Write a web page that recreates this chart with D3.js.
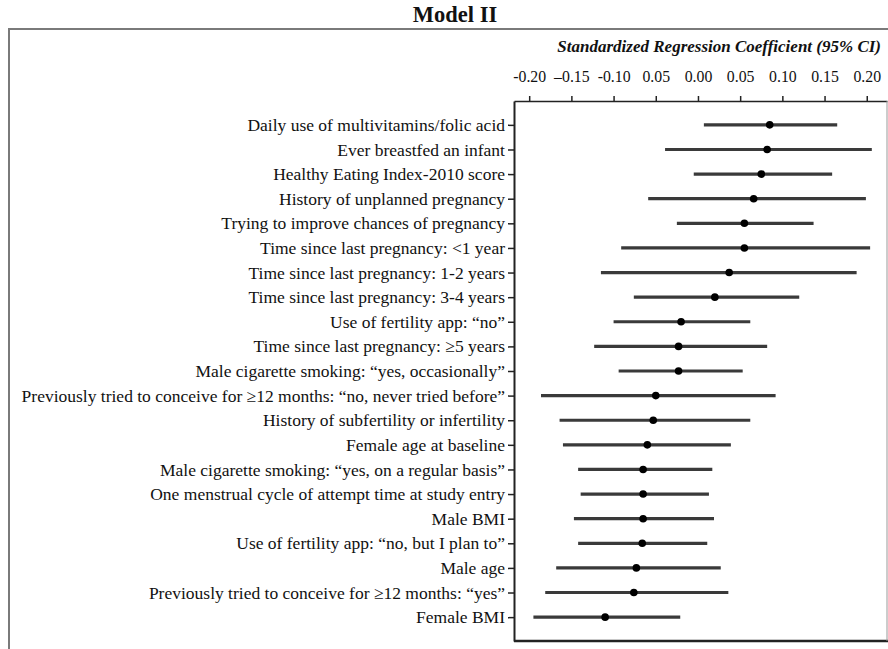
<!DOCTYPE html>
<html>
<head>
<meta charset="utf-8">
<script src="https://cdn.jsdelivr.net/npm/d3@7"></script>
<style>
  html, body { margin: 0; padding: 0; background: #fff; }
  svg { display: block; }
  text { font-family: "Liberation Serif", "Times New Roman", serif; fill: #111; }
</style>
</head>
<body>
<svg id="chart" width="888" height="649"></svg>
<script>
const categories = [
  "Daily use of multivitamins/folic acid",
  "Ever breastfed an infant",
  "Healthy Eating Index-2010 score",
  "History of unplanned pregnancy",
  "Trying to improve chances of pregnancy",
  "Time since last pregnancy: <1 year",
  "Time since last pregnancy: 1-2 years",
  "Time since last pregnancy: 3-4 years",
  "Use of fertility app: \u201cno\u201d",
  "Time since last pregnancy: \u22655 years",
  "Male cigarette smoking: \u201cyes, occasionally\u201d",
  "Previously tried to conceive for \u226512 months: \u201cno, never tried before\u201d",
  "History of subfertility or infertility",
  "Female age at baseline",
  "Male cigarette smoking: \u201cyes, on a regular basis\u201d",
  "One menstrual cycle of attempt time at study entry ",
  "Male BMI",
  "Use of fertility app: \u201cno, but I plan to\u201d",
  "Male age",
  "Previously tried to conceive for \u226512 months: \u201cyes\u201d",
  "Female BMI"
];
const estimates = [0.085, 0.082, 0.075, 0.066, 0.055, 0.055, 0.037, 0.020, -0.020, -0.023, -0.023,
                   -0.050, -0.053, -0.060, -0.065, -0.065, -0.065, -0.066, -0.073, -0.076, -0.110];
const lower = [0.007, -0.039, -0.005, -0.059, -0.025, -0.091, -0.115, -0.076, -0.100, -0.123, -0.094,
               -0.186, -0.164, -0.160, -0.142, -0.139, -0.147, -0.142, -0.168, -0.181, -0.195];
const upper = [0.165, 0.206, 0.159, 0.199, 0.137, 0.204, 0.188, 0.120, 0.062, 0.082, 0.053,
               0.092, 0.062, 0.039, 0.017, 0.013, 0.019, 0.011, 0.027, 0.036, -0.021];
const tickValues = [-0.20, -0.15, -0.10, -0.05, 0.00, 0.05, 0.10, 0.15, 0.20];
const tickLabels = ["-0.20", "\u20130.15", "-0.10", "0.05", "0.00", "0.05", "0.10", "0.15", "0.20"];
const title = "Model II";
const axisTitle = "Standardized Regression Coefficient (95% CI)";

const svg = d3.select("#chart");
const plotL = 514, plotR = 887, plotT = 101, plotB = 641;

const x = d3.scaleLinear().domain([-0.2180, 0.2240]).range([plotL, plotR]);
const y = d3.scalePoint().domain(categories).range([plotT, plotB]).padding(0.97);

// outer frame
svg.append("rect").attr("x", 9).attr("y", 29).attr("width", 900).attr("height", 660)
  .attr("fill", "none").attr("stroke", "#7a7a7a").attr("stroke-width", 2);

// title
svg.append("text").attr("x", 455).attr("y", 22).attr("text-anchor", "middle")
  .attr("font-size", 22.5).attr("font-weight", "bold").text(title);

svg.append("text").attr("x", 881).attr("y", 52).attr("text-anchor", "end")
  .attr("font-size", 17).attr("font-weight", "bold").attr("font-style", "italic").text(axisTitle);

// top axis
const xAxis = d3.axisTop(x).tickValues(tickValues)
  .tickFormat((d, i) => tickLabels[i]).tickSize(5).tickSizeOuter(0);
const gx = svg.append("g").attr("transform", `translate(0,${plotT})`).call(xAxis);
gx.select(".domain").attr("stroke", "#222").attr("stroke-width", 1.5);
gx.selectAll(".tick line").attr("stroke", "#222").attr("stroke-width", 1.5);
gx.selectAll(".tick text").attr("font-family", "Liberation Serif").attr("font-size", 15.8)
  .attr("fill", "#111").attr("y", -19);

// left axis
const yAxis = d3.axisLeft(y).tickSize(6).tickSizeOuter(0).tickPadding(4);
const gy = svg.append("g").attr("transform", `translate(${plotL},0)`).call(yAxis);
gy.select(".domain").attr("stroke", "#222").attr("stroke-width", 2);
gy.selectAll(".tick line").attr("stroke", "#222").attr("stroke-width", 1.5);
gy.selectAll(".tick text").attr("font-family", "Liberation Serif").attr("font-size", 17.5)
  .attr("fill", "#111").attr("x", -9);

// bottom and right frame of plot
svg.append("line").attr("x1", plotL).attr("x2", plotR + 2).attr("y1", plotB).attr("y2", plotB)
  .attr("stroke", "#222").attr("stroke-width", 2.5);
svg.append("line").attr("x1", plotR).attr("x2", plotR).attr("y1", plotT).attr("y2", plotB)
  .attr("stroke", "#999").attr("stroke-width", 1);

// CI lines
const rows = categories.map((c, i) => ({c, est: estimates[i], lo: lower[i], hi: upper[i]}));
svg.append("g").selectAll("line").data(rows).join("line")
  .attr("x1", d => x(d.lo)).attr("x2", d => x(d.hi))
  .attr("y1", d => y(d.c)).attr("y2", d => y(d.c))
  .attr("stroke", "#3a3a3a").attr("stroke-width", 3.2);
svg.append("g").selectAll("circle").data(rows).join("circle")
  .attr("cx", d => x(d.est)).attr("cy", d => y(d.c)).attr("r", 3.8)
  .attr("fill", "#000");
</script>
</body>
</html>
